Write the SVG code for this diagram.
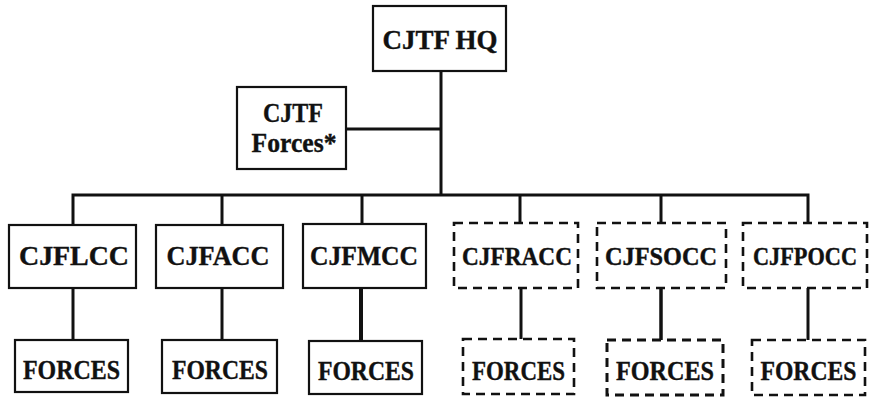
<svg xmlns="http://www.w3.org/2000/svg" width="875" height="397" viewBox="0 0 875 397">
<style>
.box{fill:#fff;stroke:#111;stroke-width:2.2}
.dash{fill:#fff;stroke:#111;stroke-width:2.6;stroke-dasharray:9 6}
.t{font-family:"Liberation Serif","Times New Roman",serif;font-weight:bold;font-size:28px;fill:#111;stroke:#111;stroke-width:0.4;text-anchor:middle}
.s{font-size:25px}
.c{stroke:#111;stroke-width:3;fill:none}
</style>
<rect width="875" height="397" fill="#fff"/>
<g id="connectors">
<polyline class="c" points="441,71 441,195"/>
<polyline class="c" points="346,129 441,129"/>
<polyline class="c" points="73,224 73,195 808,195 808,223"/>
<line class="c" x1="222" y1="195" x2="222" y2="225"/>
<line class="c" x1="362" y1="195" x2="362" y2="224"/>
<line class="c" x1="520" y1="195" x2="520" y2="223"/>
<line class="c" x1="661" y1="195" x2="661" y2="223"/>
<line class="c" x1="73" y1="288" x2="73" y2="340"/>
<line class="c" x1="222" y1="288" x2="222" y2="340"/>
<line class="c" x1="361" y1="288" x2="361" y2="341" style="stroke-width:4"/>
<line class="c" x1="521" y1="288" x2="521" y2="339"/>
<line class="c" x1="661" y1="288" x2="661" y2="340" style="stroke-width:3.5"/>
<line class="c" x1="808" y1="288" x2="808" y2="340"/>
</g>
<g id="hq"><rect class="box" x="373" y="6" width="133" height="65"/><text class="t" x="440" y="49" textLength="115" lengthAdjust="spacingAndGlyphs">CJTF HQ</text></g>
<g id="forces-star"><rect class="box" x="237" y="87" width="109" height="82"/><text class="t" x="293" y="122" textLength="60" lengthAdjust="spacingAndGlyphs">CJTF</text><text class="t" x="294" y="152" textLength="85" lengthAdjust="spacingAndGlyphs">Forces*</text></g>
<g id="cjflcc"><rect class="box" x="9" y="225" width="127" height="63"/><text class="t" x="74" y="265" textLength="110" lengthAdjust="spacingAndGlyphs">CJFLCC</text></g>
<g id="cjfacc"><rect class="box" x="156" y="225" width="127" height="63"/><text class="t" x="218" y="265" textLength="103" lengthAdjust="spacingAndGlyphs">CJFACC</text></g>
<g id="cjfmcc"><rect class="box" x="303" y="224" width="123" height="64"/><text class="t" x="364" y="265" textLength="108" lengthAdjust="spacingAndGlyphs">CJFMCC</text></g>
<g id="cjfracc"><rect class="dash" x="454" y="223" width="124" height="65"/><text class="t s" x="517" y="265" textLength="110" lengthAdjust="spacingAndGlyphs">CJFRACC</text></g>
<g id="cjfsocc"><rect class="dash" x="597" y="223" width="129" height="65"/><text class="t s" x="661" y="265" textLength="112" lengthAdjust="spacingAndGlyphs">CJFSOCC</text></g>
<g id="cjfpocc"><rect class="dash" x="743" y="223" width="124" height="65"/><text class="t s" x="805" y="265" textLength="104" lengthAdjust="spacingAndGlyphs">CJFPOCC</text></g>
<g id="forces1"><rect class="box" x="15" y="340" width="113" height="52"/><text class="t" x="71.5" y="379" textLength="97" lengthAdjust="spacingAndGlyphs">FORCES</text></g>
<g id="forces2"><rect class="box" x="162" y="340" width="115" height="53"/><text class="t" x="220" y="379" textLength="96" lengthAdjust="spacingAndGlyphs">FORCES</text></g>
<g id="forces3"><rect class="box" x="309" y="341" width="113" height="53"/><text class="t" x="366" y="380" textLength="96" lengthAdjust="spacingAndGlyphs">FORCES</text></g>
<g id="forces4"><rect class="dash" x="463" y="339" width="111" height="55"/><text class="t" x="518.5" y="380" textLength="93" lengthAdjust="spacingAndGlyphs">FORCES</text></g>
<g id="forces5"><rect class="dash" x="607" y="340" width="116" height="55" style="stroke-width:3"/><text class="t" x="665" y="380" textLength="98" lengthAdjust="spacingAndGlyphs">FORCES</text></g>
<g id="forces6"><rect class="dash" x="752" y="340" width="113" height="55"/><text class="t" x="808.5" y="380" textLength="96" lengthAdjust="spacingAndGlyphs">FORCES</text></g>
</svg>
